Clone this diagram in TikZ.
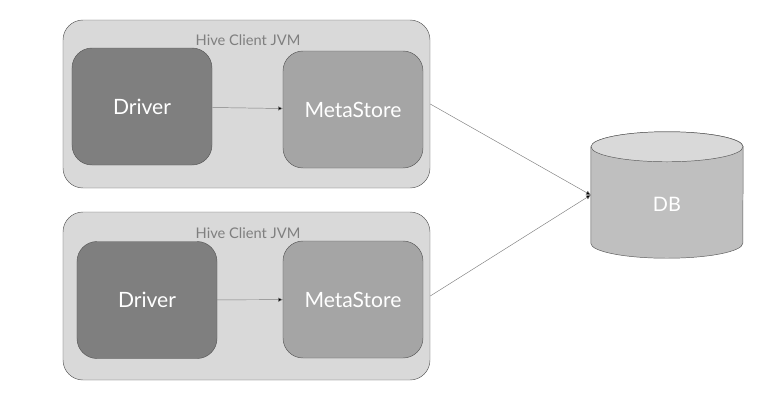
\documentclass[tikz,border=0pt]{standalone}
\usepackage{fontspec}
\setmainfont{Lato}
\usepackage{tikz}
\usetikzlibrary{arrows.meta}
\definecolor{jvmGray}{HTML}{D9D9D9}
\definecolor{driverGray}{HTML}{7F7F7F}
\definecolor{metaGray}{HTML}{A5A5A5}
\definecolor{dbGray}{HTML}{BFBFBF}
\definecolor{edgeGray}{HTML}{595959}
\definecolor{lineGray}{HTML}{808080}

\begin{document}
\begin{tikzpicture}
[x=0.03cm,y=-0.03cm,
  jvmDecorate/.style={shape=rectangle,rounded corners=0.6cm,draw=edgeGray,fill=jvmGray,
    minimum width=11.01cm,minimum height=5.04cm},%
  titleDecorate/.style={text=driverGray,font=\fontsize{12.5}{14}\selectfont},%
  boxDecorate/.style={shape=rectangle,rounded corners=0.6cm,draw=edgeGray,
    minimum width=4.2cm,minimum height=3.51cm,text=white,font=\fontsize{18}{20}\selectfont},%
  lineDecorate/.style={draw=lineGray,line width=0.4pt,-{Triangle[length=4pt,width=3.5pt,fill=black]}}]
\useasboundingbox (0,0) rectangle (777,409);
%% outer boxes
\foreach \nodename/\x/\y in {jvma/246.5/104, jvmb/246.5/296} {
  \node (\nodename) at (\x,\y) [jvmDecorate] {};
}
%% titles
\foreach \nodename/\x/\y in {titlea/248/40, titleb/248/233} {
  \node (\nodename) at (\x,\y) [titleDecorate] {Hive Client JVM};
}
%% inner boxes
\foreach \nodename/\x/\y in {drivera/142/106.5, driverb/147/300} {
  \node (\nodename) at (\x,\y) [boxDecorate,fill=driverGray] {Driver};
}
\foreach \nodename/\x/\y in {metaa/353/109.5, metab/353/299.5} {
  \node (\nodename) at (\x,\y) [boxDecorate,fill=metaGray] {MetaStore};
}
%% database
\node (db) at (667,195) [minimum width=4.56cm,minimum height=2.88cm,inner sep=0pt] {};
\path[fill=dbGray,draw=edgeGray] (db.north west) -- (db.south west)
  arc[start angle=180,end angle=360,x radius=2.28cm,y radius=0.45cm]
  -- (db.north east)
  arc[start angle=0,end angle=180,x radius=2.28cm,y radius=0.45cm] -- cycle;
\path[fill=jvmGray,draw=edgeGray] (db.north) ellipse[x radius=2.28cm,y radius=0.45cm];
\node (dblabel) at (667,204) [text=white,font=\fontsize{17}{19}\selectfont] {DB};
%% edges
\path
\foreach \startnode/\endnode in {drivera/metaa, driverb/metab} {
  (\startnode) edge[lineDecorate] (\endnode)
}
(jvma.east) edge[lineDecorate] (db.west)
(jvmb.east) edge[lineDecorate] (db.west);
\end{tikzpicture}
\end{document}
